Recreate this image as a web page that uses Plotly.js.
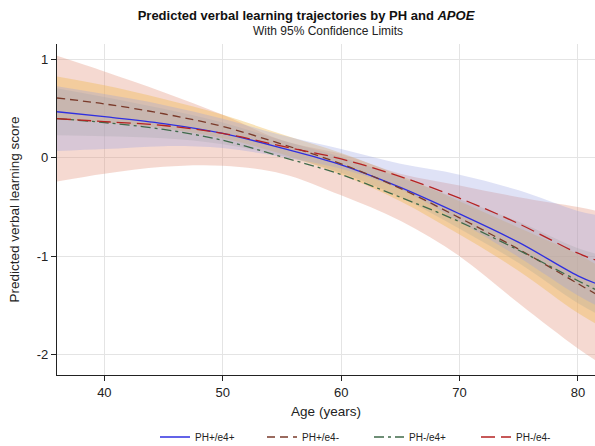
<!DOCTYPE html>
<html>
<head>
<meta charset="utf-8">
<script src="https://cdn.plot.ly/plotly-3.0.1.min.js"></script>
<style>html,body{margin:0;padding:0;overflow:hidden;background:#fff;}</style>
</head>
<body>
<div id="chart" style="width:595px;height:446px;"></div>
<script>
// Age grid (years)
var ages = [36, 40, 45, 50, 55, 60, 65, 70, 75, 80, 82];

// Predicted scores per group
var phPosE4Pos = [0.47, 0.42, 0.35, 0.25, 0.10, -0.07, -0.30, -0.57, -0.86, -1.20, -1.30];
var phPosE4Neg = [0.61, 0.55, 0.45, 0.32, 0.14, -0.06, -0.31, -0.61, -0.93, -1.28, -1.42];
var phNegE4Pos = [0.40, 0.36, 0.29, 0.18, 0.01, -0.17, -0.40, -0.65, -0.94, -1.25, -1.37];
var phNegE4Neg = [0.40, 0.37, 0.33, 0.25, 0.12, -0.01, -0.19, -0.41, -0.67, -0.97, -1.06];

// 95% confidence limits per group
var phPosE4PosLo = [0.23, 0.22, 0.20, 0.14, 0.02, -0.15, -0.40, -0.72, -1.07, -1.48, -1.61];
var phPosE4PosHi = [0.71, 0.62, 0.50, 0.36, 0.18, 0.01, -0.20, -0.42, -0.65, -0.92, -0.99];
var phPosE4NegLo = [0.39, 0.36, 0.30, 0.20, 0.04, -0.17, -0.44, -0.78, -1.15, -1.58, -1.72];
var phPosE4NegHi = [0.83, 0.74, 0.60, 0.44, 0.24, 0.05, -0.18, -0.44, -0.71, -0.98, -1.12];
var phNegE4PosLo = [-0.24, -0.16, -0.09, -0.08, -0.16, -0.38, -0.64, -1.00, -1.48, -1.94, -2.10];
var phNegE4PosHi = [1.04, 0.88, 0.67, 0.44, 0.18, 0.04, -0.16, -0.28, -0.40, -0.50, -0.55];
var phNegE4NegLo = [0.07, 0.09, 0.12, 0.10, 0.01, -0.11, -0.32, -0.65, -1.01, -1.40, -1.53];
var phNegE4NegHi = [0.73, 0.65, 0.54, 0.40, 0.23, 0.09, -0.06, -0.17, -0.33, -0.54, -0.59];

var groupNames = ["PH+/e4+", "PH+/e4-", "PH-/e4+", "PH-/e4-"];
var xTicks = [40, 50, 60, 70, 80];
var yTicks = [-2, -1, 0, 1];

function band(lo, hi, fillcolor) {
  return [
    {x: ages, y: lo, type: 'scatter', mode: 'lines', line: {width: 0, shape: 'spline'}, showlegend: false, hoverinfo: 'skip'},
    {x: ages, y: hi, type: 'scatter', mode: 'lines', line: {width: 0, shape: 'spline'}, fill: 'tonexty', fillcolor: fillcolor, showlegend: false, hoverinfo: 'skip'}
  ];
}

function curve(y, name, color, dash) {
  return {x: ages, y: y, type: 'scatter', mode: 'lines', name: name,
          line: {color: color, width: 1.3, dash: dash, shape: 'spline'}};
}

var data = [].concat(
  band(phNegE4PosLo, phNegE4PosHi, 'rgba(225,140,115,0.33)'),
  band(phPosE4NegLo, phPosE4NegHi, 'rgba(240,185,80,0.40)'),
  band(phPosE4PosLo, phPosE4PosHi, 'rgba(175,170,150,0.30)'),
  band(phNegE4NegLo, phNegE4NegHi, 'rgba(150,160,225,0.30)'),
  [
    curve(phPosE4Pos, groupNames[0], '#2f2fe0', 'solid'),
    curve(phPosE4Neg, groupNames[1], '#7a3a2a', '8px,5px'),
    curve(phNegE4Pos, groupNames[2], '#3f6a4a', '10px,4px,3px,4px'),
    curve(phNegE4Neg, groupNames[3], '#b52222', '14px,6px')
  ]
);

var layout = {
  width: 595, height: 446,
  margin: {l: 57, r: 0, t: 44, b: 71, autoexpand: false},
  paper_bgcolor: '#fff', plot_bgcolor: '#fff',
  font: {family: 'Arial, "Liberation Sans", sans-serif', color: '#222', size: 13},
  title: {text: '<b>Predicted verbal learning trajectories by PH and <i>APOE</i></b>',
          font: {size: 13, color: '#111'}, xref: 'paper', x: (306 - 57) / 538, xanchor: 'center',
          yref: 'container', y: 1 - 15 / 446, yanchor: 'middle'},
  annotations: [{text: 'With 95% Confidence Limits', xref: 'paper', yref: 'paper',
                 x: (328 - 57) / 538, y: (375 - 31) / 331, xanchor: 'center', yanchor: 'middle',
                 showarrow: false, font: {size: 12, color: '#222'}}],
  xaxis: {range: [36, 81.44], tickvals: xTicks, ticktext: xTicks.map(String),
          showgrid: true, gridcolor: '#e4e4e4', gridwidth: 1, zeroline: false,
          showline: true, linecolor: '#222', linewidth: 1.2, ticks: 'outside', ticklen: 5, tickcolor: '#222',
          tickfont: {size: 13}, title: {text: 'Age (years)', font: {size: 13.5}, standoff: 7}},
  yaxis: {range: [-2.21, 1.16], tickvals: yTicks, ticktext: yTicks.map(String),
          showgrid: true, gridcolor: '#e4e4e4', gridwidth: 1, zeroline: false,
          showline: true, linecolor: '#222', linewidth: 1.2, ticks: 'outside', ticklen: 5, tickcolor: '#222',
          tickfont: {size: 13}, title: {text: 'Predicted verbal learning score', font: {size: 13.5}, standoff: 14}},
  showlegend: true,
  legend: {orientation: 'h', x: (155 - 57) / 538, xanchor: 'left', y: (375 - 437) / 331, yanchor: 'middle',
           entrywidth: 62, entrywidthmode: 'pixels', font: {size: 10, color: '#222'},
           bgcolor: 'rgba(0,0,0,0)', traceorder: 'normal'}
};

Plotly.newPlot('chart', data, layout, {displayModeBar: false, staticPlot: true});
</script>
</body>
</html>
